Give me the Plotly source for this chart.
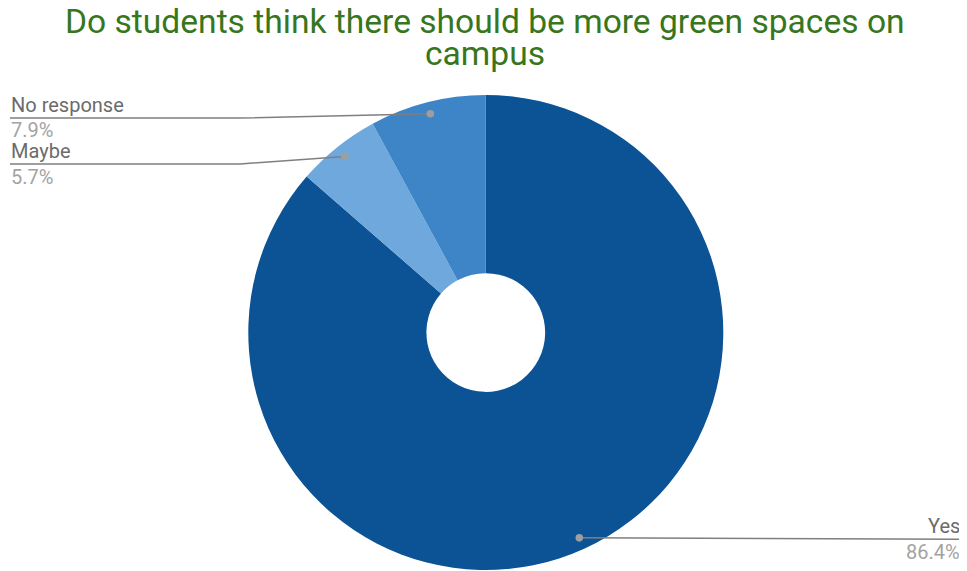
import math
import plotly.graph_objects as go

# ---- data ----
labels = ["Yes", "Maybe", "No response"]
values = [86.4, 5.7, 7.9]
colors = ["#0b5394", "#6fa8dc", "#3d85c6"]
value_text = ["86.4%", "5.7%", "7.9%"]
title_lines = ["Do students think there should be more green spaces on", "campus"]

# page is offset by the default 8px body margin
OFF = 8
W, H = 967 - OFF, 571 - OFF
CX, CY, R = 485.8, 332.5, 237.5
HOLE = 0.25

def px(x):
    return (x - OFF) / W

def py(y):
    return 1 - (y - OFF) / H

fig = go.Figure()
fig.add_trace(go.Pie(
    labels=labels, values=values, sort=False, direction="clockwise", rotation=0,
    hole=HOLE, marker=dict(colors=colors, line=dict(width=0)),
    textinfo="none", hoverinfo="label+percent", showlegend=False,
    domain=dict(x=[px(CX - R), px(CX + R)], y=[max(0, py(CY + R)), py(CY - R)]),
))

leader = {
    "Yes": dict(ly=539.3, bend=None, end=961, side="right"),
    "Maybe": dict(ly=164, bend=240, end=10, side="left"),
    "No response": dict(ly=118, bend=240, end=10, side="left"),
}

shapes = []
annotations = []
total = sum(values)
cum = 0.0
for lab, val, vt in zip(labels, values, value_text):
    mid = (cum + val / 2) / total * 2 * math.pi
    cum += val
    r = 0.95 * R
    dx = CX + r * math.sin(mid)
    dy = CY - r * math.cos(mid)
    L = leader[lab]
    if L["bend"] is None:
        path = f"M {px(dx)},{py(dy)} L {px(L['end'])},{py(L['ly'])}"
    else:
        path = (f"M {px(dx)},{py(dy)} L {px(L['bend'])},{py(L['ly'])} "
                f"L {px(L['end'])},{py(L['ly'])}")
    shapes.append(dict(type="path", xref="paper", yref="paper", path=path,
                       line=dict(color="#7f7f7f", width=1.5), layer="above"))
    rd = 3.8
    shapes.append(dict(type="circle", xref="paper", yref="paper",
                       x0=px(dx - rd), x1=px(dx + rd), y0=py(dy + rd), y1=py(dy - rd),
                       fillcolor="#9e9e9e", line=dict(width=0), layer="above"))
    xanchor = "left" if L["side"] == "left" else "right"
    annotations.append(dict(x=px(L["end"]), y=py(L["ly"] - 13.5), xref="paper", yref="paper",
                            text=lab, showarrow=False, xanchor=xanchor, yanchor="middle",
                            borderpad=0,
                            font=dict(family="Roboto", size=20, color="#6b6b6b")))
    annotations.append(dict(x=px(L["end"]), y=py(L["ly"] + 12.5), xref="paper", yref="paper",
                            text=vt, showarrow=False, xanchor=xanchor, yanchor="middle",
                            borderpad=0,
                            font=dict(family="Roboto", size=20, color="#a3a3a3")))

for t, yc in zip(title_lines, [21.7, 53.7]):
    annotations.append(dict(x=px(484.5), y=py(yc), xref="paper", yref="paper", text=t,
                            showarrow=False, xanchor="center", yanchor="middle", borderpad=0,
                            font=dict(family="Roboto", size=33.6, color="#38761d")))

fig.update_layout(
    width=W, height=H, margin=dict(l=0, r=0, t=0, b=0),
    paper_bgcolor="white", plot_bgcolor="white",
    shapes=shapes, annotations=annotations,
)
fig.write_html("out.html")
